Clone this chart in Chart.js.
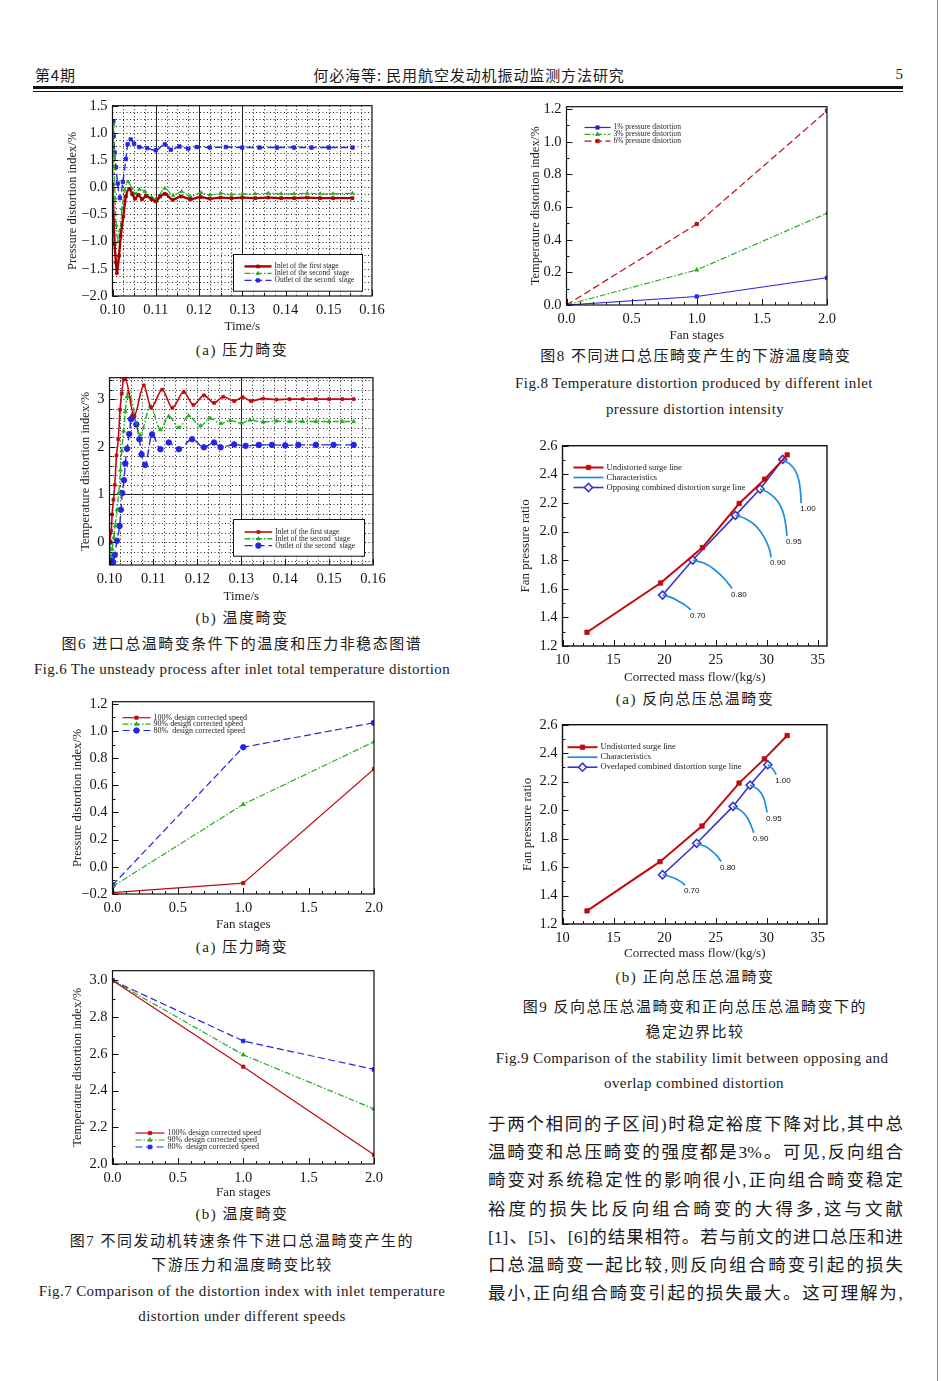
<!DOCTYPE html>
<html>
<head>
<meta charset="utf-8">
<script src="https://cdn.jsdelivr.net/npm/chart.js@4.4.1/dist/chart.umd.min.js"></script>
<style>
  body { margin: 0; background: #fff; }
  #page { position: relative; width: 941px; height: 1381px; overflow: hidden; background: #fff; }
  .t { position: absolute; white-space: nowrap; color: #1a1a1a; }
  .para { position: absolute; left: 488px; width: 415px; text-align: justify; text-align-last: justify; white-space: nowrap;
          font: 17.5px "Liberation Serif", "Noto Sans CJK SC", serif; line-height: 20px; color: #1a1a1a; }
  canvas { position: absolute; }
</style>
</head>
<body>
<div id="page"></div>
<script>
// ---------- Fig.6(a) pressure distortion vs time ----------
const t6aRed   = [0.1000, 0.1003, 0.1005, 0.1008, 0.1010, 0.1015, 0.1019, 0.1025, 0.1031, 0.1039, 0.1046, 0.1052, 0.1060, 0.1068, 0.1078, 0.1090, 0.1100, 0.1110, 0.1121, 0.1139, 0.1158, 0.1181, 0.1204, 0.1225, 0.1250, 0.1275, 0.1300, 0.1330, 0.1360, 0.1390, 0.1420, 0.1450, 0.1480, 0.1510, 0.1555];
const p6aRed   = [-0.05, -0.62, -1.05, -1.38, -1.58, -1.26, -0.90, -0.54, -0.17, -0.03, -0.13, -0.21, -0.14, -0.22, -0.16, -0.22, -0.26, -0.17, -0.12, -0.23, -0.17, -0.22, -0.18, -0.21, -0.19, -0.20, -0.19, -0.20, -0.19, -0.20, -0.20, -0.19, -0.20, -0.20, -0.20];
const t6aGreen = [0.1000, 0.1002, 0.1004, 0.1006, 0.1009, 0.1013, 0.1017, 0.1022, 0.1028, 0.1036, 0.1044, 0.1052, 0.1062, 0.1075, 0.1090, 0.1100, 0.1121, 0.1140, 0.1160, 0.1180, 0.1205, 0.1225, 0.1250, 0.1275, 0.1300, 0.1330, 0.1360, 0.1390, 0.1420, 0.1450, 0.1480, 0.1510, 0.1555];
const p6aGreen = [0.40, 1.15, 0.60, -0.20, -0.70, -1.00, -0.80, -0.40, -0.05, 0.10, -0.02, -0.12, -0.04, -0.08, -0.18, -0.22, -0.02, -0.15, -0.08, -0.17, -0.10, -0.14, -0.11, -0.13, -0.12, -0.12, -0.11, -0.12, -0.12, -0.11, -0.12, -0.12, -0.11];
const t6aBlue  = [0.1000, 0.1002, 0.1003, 0.1005, 0.1008, 0.1012, 0.1017, 0.1024, 0.1031, 0.1035, 0.1042, 0.1050, 0.1062, 0.1080, 0.1100, 0.1121, 0.1135, 0.1155, 0.1175, 0.1195, 0.1225, 0.1262, 0.1300, 0.1340, 0.1380, 0.1420, 0.1460, 0.1500, 0.1555];
const p6aBlue  = [0.05, 1.21, 0.94, 0.64, 0.37, 0.07, -0.20, 0.10, 0.52, 0.79, 0.88, 0.80, 0.74, 0.72, 0.68, 0.79, 0.69, 0.75, 0.71, 0.74, 0.73, 0.74, 0.73, 0.73, 0.73, 0.73, 0.73, 0.73, 0.73];
const timeTicks  = [0.10, 0.11, 0.12, 0.13, 0.14, 0.15, 0.16];
const timeLabels = ['0.10', '0.11', '0.12', '0.13', '0.14', '0.15', '0.16'];
const yTicks6a   = [-2, -1.5, -1, -0.5, 0, 0.5, 1, 1.5];
const yLabels6a  = ['\u22122.0', '\u22121.5', '\u22121.0', '\u22120.5', '0.0', '1.5', '1.0', '1.5'];

// ---------- Fig.6(b) temperature distortion vs time ----------
const t6bRed   = [0.1000, 0.1004, 0.1006, 0.1009, 0.1012, 0.1016, 0.1020, 0.1024, 0.1028, 0.1032, 0.1036, 0.1056, 0.1078, 0.1095, 0.1120, 0.1143, 0.1169, 0.1191, 0.1215, 0.1238, 0.1259, 0.1284, 0.1303, 0.1322, 0.1350, 0.1380, 0.1410, 0.1440, 0.1470, 0.1500, 0.1530, 0.1556];
const v6bRed   = [0.00, 0.24, 0.58, 0.89, 1.20, 1.82, 2.16, 2.78, 3.12, 3.41, 3.42, 2.65, 3.29, 2.82, 3.20, 2.82, 3.15, 2.88, 3.08, 2.92, 3.05, 2.96, 3.04, 2.96, 3.01, 2.99, 3.00, 3.00, 3.00, 3.00, 3.00, 3.00];
const t6bGreen = [0.1000, 0.1003, 0.1006, 0.1010, 0.1013, 0.1017, 0.1021, 0.1025, 0.1028, 0.1032, 0.1036, 0.1040, 0.1043, 0.1070, 0.1093, 0.1116, 0.1135, 0.1158, 0.1180, 0.1207, 0.1229, 0.1253, 0.1275, 0.1300, 0.1320, 0.1350, 0.1380, 0.1410, 0.1440, 0.1470, 0.1500, 0.1530, 0.1556];
const v6bGreen = [0.00, -0.30, -0.15, 0.10, 0.34, 0.68, 1.03, 1.51, 1.92, 2.33, 2.74, 3.05, 3.14, 2.25, 2.86, 2.36, 2.64, 2.40, 2.65, 2.44, 2.60, 2.49, 2.55, 2.50, 2.56, 2.52, 2.54, 2.53, 2.53, 2.53, 2.53, 2.53, 2.53];
const t6bBlue  = [0.1000, 0.1004, 0.1008, 0.1012, 0.1017, 0.1023, 0.1026, 0.1029, 0.1033, 0.1036, 0.1040, 0.1045, 0.1049, 0.1054, 0.1061, 0.1068, 0.1073, 0.1081, 0.1097, 0.1116, 0.1135, 0.1158, 0.1188, 0.1215, 0.1238, 0.1253, 0.1284, 0.1310, 0.1340, 0.1370, 0.1400, 0.1430, 0.1470, 0.1510, 0.1556];
const v6bBlue  = [0.00, -0.38, -0.42, -0.27, 0.03, 0.34, 0.68, 1.03, 1.30, 1.65, 1.96, 2.27, 2.58, 2.64, 2.47, 2.16, 1.84, 1.62, 2.26, 1.95, 2.09, 1.95, 2.16, 1.99, 2.09, 1.99, 2.05, 2.02, 2.04, 2.04, 2.03, 2.04, 2.04, 2.04, 2.04];
const yTicks6b  = [0, 1, 2, 3];
const yLabels6b = ['0', '1', '2', '3'];

// ---------- Fig.7 / Fig.8 vs fan stages ----------
const stages      = [0, 1, 2];
const stageTicks  = [0, 0.5, 1, 1.5, 2];
const stageLabels = ['0.0', '0.5', '1.0', '1.5', '2.0'];
const press100 = [-0.19, -0.12, 0.72];
const press90  = [-0.145, 0.46, 0.92];
const press80  = [-0.135, 0.88, 1.06];
const yTicks7a  = [-0.2, 0, 0.2, 0.4, 0.6, 0.8, 1.0, 1.2];
const yLabels7a = ['\u22120.2', '0.0', '0.2', '0.4', '0.6', '0.8', '1.0', '1.2'];
const temp100 = [3.0, 2.53, 2.05];
const temp90  = [3.0, 2.595, 2.30];
const temp80  = [3.0, 2.67, 2.515];
const yTicks7b  = [2.0, 2.2, 2.4, 2.6, 2.8, 3.0];
const yLabels7b = ['2.0', '2.2', '2.4', '2.6', '2.8', '3.0'];
const dist1 = [0, 0.052, 0.167];
const dist3 = [0, 0.215, 0.562];
const dist6 = [0, 0.496, 1.19];
const yTicks8  = [0, 0.2, 0.4, 0.6, 0.8, 1.0, 1.2];
const yLabels8 = ['0.0', '0.2', '0.4', '0.6', '0.8', '1.0', '1.2'];

// ---------- Fig.9 surge lines ----------
const flowTicks  = [10, 15, 20, 25, 30, 35];
const flowLabels = ['10', '15', '20', '25', '30', '35'];
const prTicks  = [1.2, 1.4, 1.6, 1.8, 2.0, 2.2, 2.4, 2.6];
const prLabels = ['1.2', '1.4', '1.6', '1.8', '2.0', '2.2', '2.4', '2.6'];
const speedTags = ['0.70', '0.80', '0.90', '0.95', '1.00'];
const flowUndistA = [12.4, 19.6, 23.7, 27.3, 29.8, 32.0];
const prUndistA   = [1.296, 1.640, 1.888, 2.196, 2.366, 2.536];
const flowOppose  = [19.8, 22.75, 26.93, 29.35, 31.57];
const prOppose    = [1.556, 1.801, 2.113, 2.297, 2.504];
const charFlowA = [
  [19.80, 20.62, 21.44, 22.09, 22.58],
  [22.75, 23.89, 24.87, 25.85, 26.60],
  [26.93, 27.97, 28.95, 29.77, 30.26, 30.42],
  [29.35, 30.26, 31.08, 31.57, 31.83, 31.99],
  [31.57, 32.22, 32.78, 33.14, 33.30, 33.37]
];
const charPrA = [
  [1.556, 1.540, 1.510, 1.482, 1.452],
  [1.801, 1.778, 1.735, 1.670, 1.602],
  [2.113, 2.088, 2.038, 1.957, 1.877, 1.820],
  [2.297, 2.267, 2.210, 2.141, 2.061, 1.969],
  [2.504, 2.474, 2.428, 2.359, 2.279, 2.198]
];
const flowUndistB = [12.4, 19.55, 23.66, 27.29, 29.77, 32.0];
const prUndistB   = [1.292, 1.638, 1.888, 2.190, 2.360, 2.524];
const flowOverlap = [19.8, 23.14, 26.7, 28.37, 30.1];
const prOverlap   = [1.546, 1.767, 2.026, 2.176, 2.319];
const charFlowB = [
  [19.80, 20.62, 21.27, 21.76, 21.99],
  [23.14, 24.05, 24.71, 25.20, 25.52],
  [26.70, 27.48, 28.07, 28.46, 28.73],
  [28.37, 29.12, 29.61, 29.87, 30.03],
  [30.10, 30.49, 30.75, 30.92]
];
const charPrB = [
  [1.546, 1.530, 1.511, 1.488, 1.472],
  [1.767, 1.742, 1.707, 1.673, 1.638],
  [2.026, 1.996, 1.950, 1.892, 1.841],
  [2.176, 2.146, 2.100, 2.042, 1.984],
  [2.319, 2.296, 2.272, 2.249]
];

// ---------- page texts ----------
const serif = '"Liberation Serif", "Times New Roman", serif';
const cjk = '"Liberation Serif", "Noto Sans CJK SC", sans-serif';
const hei = '"Noto Sans CJK SC", sans-serif';
const texts = [
  ['第4期', 35, 74, 15, hei, 0.8, 'l'],
  ['何必海等: 民用航空发动机振动监测方法研究', 469, 74, 15, hei, 0.9, 'c'],
  ['5', 903, 74, 15, serif, 0, 'r'],
  ['(a) 压力畸变', 242, 350, 15, cjk, 1.5, 'c'],
  ['(b) 温度畸变', 242, 618, 15, cjk, 1.5, 'c'],
  ['图6 进口总温畸变条件下的温度和压力非稳态图谱', 242, 644, 15, cjk, 1.5, 'c'],
  ['Fig.6 The unsteady process after inlet total temperature distortion', 242, 669, 15, serif, 0.35, 'c'],
  ['(a) 压力畸变', 242, 947, 15, cjk, 1.5, 'c'],
  ['(b) 温度畸变', 242, 1214, 15, cjk, 1.5, 'c'],
  ['图7 不同发动机转速条件下进口总温畸变产生的', 242, 1241, 15, cjk, 1.5, 'c'],
  ['下游压力和温度畸变比较', 242, 1265, 15, cjk, 1.5, 'c'],
  ['Fig.7 Comparison of the distortion index with inlet temperature', 242, 1291, 15, serif, 0.4, 'c'],
  ['distortion under different speeds', 242, 1316, 15, serif, 0.4, 'c'],
  ['图8 不同进口总压畸变产生的下游温度畸变', 696, 356, 15, cjk, 1.5, 'c'],
  ['Fig.8 Temperature distortion produced by different inlet', 694, 383, 15, serif, 0.4, 'c'],
  ['pressure distortion intensity', 695, 409, 15, serif, 0.4, 'c'],
  ['(a) 反向总压总温畸变', 695, 699, 15, cjk, 1.5, 'c'],
  ['(b) 正向总压总温畸变', 695, 977, 15, cjk, 1.5, 'c'],
  ['图9 反向总压总温畸变和正向总压总温畸变下的', 695, 1007, 15, cjk, 1.5, 'c'],
  ['稳定边界比较', 695, 1032, 15, cjk, 1.5, 'c'],
  ['Fig.9 Comparison of the stability limit between opposing and', 692, 1058, 15, serif, 0.4, 'c'],
  ['overlap combined distortion', 694, 1083, 15, serif, 0.4, 'c']
];
const paragraph = [
  '于两个相同的子区间)时稳定裕度下降对比,其中总',
  '温畸变和总压畸变的强度都是3%。可见,反向组合',
  '畸变对系统稳定性的影响很小,正向组合畸变稳定',
  '裕度的损失比反向组合畸变的大得多,这与文献',
  '[1]、[5]、[6]的结果相符。若与前文的进口总压和进',
  '口总温畸变一起比较,则反向组合畸变引起的损失',
  '最小,正向组合畸变引起的损失最大。这可理解为,'
];

const page = document.getElementById('page');

function addBox(css) {
  const d = document.createElement('div');
  d.style.cssText = 'position:absolute;' + css;
  page.appendChild(d);
}
addBox('left:33px;top:86px;width:870px;height:2.6px;background:#111;');
addBox('left:33px;top:91px;width:870px;height:0.9px;background:#111;');
addBox('left:937px;top:0;width:1px;height:1381px;background:#8a8a8a;');

texts.forEach(([s, x, cy, size, fam, ls, al]) => {
  const d = document.createElement('div');
  d.className = 't';
  d.textContent = s;
  d.style.font = size + 'px ' + fam;
  d.style.lineHeight = size + 'px';
  d.style.letterSpacing = ls + 'px';
  d.style.top = (cy - size / 2) + 'px';
  if (al === 'l') { d.style.left = x + 'px'; }
  else if (al === 'r') { d.style.left = (x - 400) + 'px'; d.style.width = '400px'; d.style.textAlign = 'right'; }
  else { d.style.left = (x - 400) + 'px'; d.style.width = '800px'; d.style.textAlign = 'center'; }
  page.appendChild(d);
});
paragraph.forEach((s, i) => {
  const d = document.createElement('div');
  d.className = 'para';
  d.textContent = s;
  d.style.top = (1114 + i * 28.2) + 'px';
  page.appendChild(d);
});

// ---------- helpers ----------
const range = (a, b, s) => { const out = []; for (let v = a; v <= b + s * 1e-6; v += s) out.push(+v.toFixed(6)); return out; };
const without = (arr, ex) => arr.filter(v => !ex.some(e => Math.abs(e - v) < 1e-9));
const xy = (xs, ys) => xs.map((v, i) => ({x: v, y: ys[i]}));

const framePlugin = {
  id: 'frame',
  beforeDatasetsDraw(chart, args, o) {
    const {ctx, chartArea: a} = chart, x = chart.scales.x, y = chart.scales.y;
    ctx.save();
    ctx.strokeStyle = '#222';
    ctx.lineWidth = 1;
    const vline = v => { const p = Math.round(x.getPixelForValue(v)) + 0.5; ctx.beginPath(); ctx.moveTo(p, a.top); ctx.lineTo(p, a.bottom); ctx.stroke(); };
    const hline = v => { const p = Math.round(y.getPixelForValue(v)) + 0.5; ctx.beginPath(); ctx.moveTo(a.left, p); ctx.lineTo(a.right, p); ctx.stroke(); };
    ctx.setLineDash([1, 2.5]);
    (o.dotX || []).forEach(vline);
    (o.dotY || []).forEach(hline);
    ctx.setLineDash([]);
    (o.solidX || []).forEach(vline);
    (o.solidY || []).forEach(hline);
    ctx.restore();
  },
  afterDatasetsDraw(chart, args, o) {
    const {ctx, chartArea: a} = chart, x = chart.scales.x, y = chart.scales.y;
    ctx.save();
    ctx.strokeStyle = '#111';
    ctx.lineWidth = o.lw || 1.2;
    ctx.strokeRect(a.left, a.top, a.right - a.left, a.bottom - a.top);
    ctx.lineWidth = 1;
    const tx = (v, len) => { const p = Math.round(x.getPixelForValue(v)) + 0.5; ctx.beginPath(); ctx.moveTo(p, a.bottom); ctx.lineTo(p, a.bottom - len); ctx.stroke(); };
    const ty = (v, len) => { const p = Math.round(y.getPixelForValue(v)) + 0.5; ctx.beginPath(); ctx.moveTo(a.left, p); ctx.lineTo(a.left + len, p); ctx.stroke(); };
    (o.minorX || []).forEach(v => tx(v, 3));
    (o.majorX || []).forEach(v => tx(v, 6));
    (o.minorY || []).forEach(v => ty(v, 3));
    (o.majorY || []).forEach(v => ty(v, 6));
    ctx.restore();
  }
};

const keyPlugin = {
  id: 'keys',
  afterDatasetsDraw(chart, args, o) {
    if (!o.font) return;
    const {ctx, chartArea: a} = chart;
    ctx.save();
    if (o.box) {
      const bx = Math.round(a.left + o.box[0]) + 0.5, by = Math.round(a.top + o.box[1]) + 0.5;
      ctx.fillStyle = '#fff';
      ctx.fillRect(bx, by, o.box[2], o.box[3]);
      ctx.strokeStyle = '#111';
      ctx.lineWidth = 1;
      ctx.strokeRect(bx, by, o.box[2], o.box[3]);
    }
    ctx.font = o.font;
    ctx.textBaseline = 'middle';
    let i = 0;
    chart.data.datasets.forEach(ds => {
      if (!ds.label) return;
      const yy = a.top + o.dy + i * o.rowH, x0 = a.left + o.dx;
      ctx.strokeStyle = ds.borderColor;
      ctx.lineWidth = ds.borderWidth;
      ctx.setLineDash(ds.borderDash || []);
      ctx.beginPath(); ctx.moveTo(x0, yy); ctx.lineTo(x0 + o.len, yy); ctx.stroke();
      ctx.setLineDash([]);
      if (ds.pointRadius) {
        ctx.fillStyle = ds.pointBackgroundColor;
        ctx.strokeStyle = ds.pointBorderColor;
        ctx.lineWidth = ds.pointBorderWidth;
        Chart.helpers.drawPoint(ctx, {pointStyle: ds.pointStyle, radius: ds.pointRadius, rotation: 0, borderWidth: ds.pointBorderWidth}, x0 + o.len / 2, yy);
      }
      ctx.fillStyle = '#222';
      ctx.fillText(ds.label, x0 + o.len + 3, yy);
      i++;
    });
    ctx.restore();
  }
};

const tagPlugin = {
  id: 'tags',
  afterDatasetsDraw(chart, args, o) {
    if (!o.font) return;
    const {ctx} = chart;
    ctx.save();
    ctx.font = o.font;
    ctx.fillStyle = '#111';
    ctx.textBaseline = 'top';
    chart.data.datasets.forEach((ds, i) => {
      if (!ds.tag) return;
      const pts = chart.getDatasetMeta(i).data, p = pts[pts.length - 1];
      ctx.fillText(ds.tag, p.x - 1, p.y + 2);
    });
    ctx.restore();
  }
};
Chart.register(framePlugin, keyPlugin, tagPlugin);

function axis(s, size, horiz) {
  return {
    type: 'linear', min: s.min, max: s.max,
    afterBuildTicks: sc => { sc.ticks = s.vals.map(v => ({value: v})); },
    afterFit: sc => { if (horiz) sc.height = size; else sc.width = size; },
    grid: {display: false, drawTicks: false},
    border: {display: false},
    ticks: {autoSkip: false, maxRotation: 0, padding: 5, color: '#151515',
            font: {family: serif, size: s.fs || 14.5}, callback: (v, i) => s.labels[i]},
    title: {display: true, text: s.title, color: '#222', padding: 0,
            font: {family: serif, size: s.ts || (horiz ? 13 : 12.5)}}
  };
}

function makeChart(g, datasets, sx, sy, plug) {
  const padT = 10, padR = 22;
  const cv = document.createElement('canvas');
  const w = Math.round(g.R - g.L + g.yW + padR), h = Math.round(g.B - g.T + padT + g.xH);
  cv.width = w; cv.height = h;
  cv.style.width = w + 'px'; cv.style.height = h + 'px';
  cv.style.left = (g.L - g.yW) + 'px'; cv.style.top = (g.T - padT) + 'px';
  page.appendChild(cv);
  new Chart(cv, {
    type: 'line',
    data: {datasets},
    options: {
      responsive: false, animation: false,
      layout: {padding: {top: padT, right: padR, left: 0, bottom: 0}},
      plugins: {legend: {display: false}, tooltip: {enabled: false},
                frame: plug.frame || {}, keys: plug.keys || {}, tags: plug.tags || {}},
      scales: {x: axis(sx, g.xH, true), y: axis(sy, g.yW, false)}
    }
  });
}

function line(label, xs, ys, color, st) {
  return Object.assign({
    label, data: xy(xs, ys), fill: false, borderColor: color, borderWidth: 1.2,
    pointBackgroundColor: color, pointBorderColor: color, pointBorderWidth: 0.8,
    pointRadius: 2.2, pointStyle: 'rect'
  }, st || {});
}

const RED = '#c00a10', DRED = '#a80000', GREEN = '#22ad22', BLUE = '#2424e4', CYAN = '#1b8ee2', NAVY = '#3a33cc';
const DASHDOT = [6, 2, 1.5, 2];
const smooth = {cubicInterpolationMode: 'monotone'};
const legendFont = '7.5px ' + serif;

// Fig.6(a)
makeChart({L: 112, R: 371, T: 102, B: 296, yW: 47.5, xH: 38}, [
  line('Inlet of the first stage', t6aRed, p6aRed, DRED, Object.assign({borderWidth: 2.4, pointRadius: 2}, smooth)),
  line('Inlet of the second  stage', t6aGreen, p6aGreen, GREEN, Object.assign({borderDash: DASHDOT, pointStyle: 'triangle', pointRadius: 2}, smooth)),
  line('Outlet of the second  stage', t6aBlue, p6aBlue, BLUE, Object.assign({borderWidth: 1.4, borderDash: [7, 3.5], pointRadius: 2.4}, smooth))
], {min: 0.10, max: 0.16, vals: timeTicks, labels: timeLabels, title: 'Time/s'},
   {min: -2, max: 1.5, vals: yTicks6a, labels: yLabels6a, title: 'Pressure distortion index/%'},
   {frame: {dotX: without(range(0.1025, 0.1575, 0.0025), [0.11, 0.12, 0.13]), dotY: range(-1.875, 1.375, 0.125),
            solidX: [0.11, 0.12, 0.13], majorX: timeTicks, minorX: range(0.105, 0.155, 0.01),
            majorY: yTicks6a, minorY: range(-1.75, 1.25, 0.5)},
    keys: {font: legendFont, dx: 132, dy: 160.7, rowH: 7, len: 27, box: [120.7, 148, 129, 36.7]}});

// Fig.6(b)
makeChart({L: 109, R: 372, T: 374, B: 565, yW: 31.5, xH: 39}, [
  line('Inlet of the first stage', t6bRed, v6bRed, RED, Object.assign({borderWidth: 1.6, pointRadius: 2}, smooth)),
  line('Inlet of the second  stage', t6bGreen, v6bGreen, GREEN, Object.assign({borderWidth: 1.4, borderDash: DASHDOT, pointStyle: 'triangle', pointRadius: 2.2}, smooth)),
  line('Outlet of the second  stage', t6bBlue, v6bBlue, BLUE, Object.assign({borderWidth: 1.4, borderDash: [8, 4], pointStyle: 'circle', pointRadius: 2.8}, smooth))
], {min: 0.10, max: 0.16, vals: timeTicks, labels: timeLabels, title: 'Time/s'},
   {min: -0.48, max: 3.45, vals: yTicks6b, labels: yLabels6b, title: 'Temperature distortion index/%'},
   {frame: {dotX: without(range(0.1025, 0.1575, 0.0025), [0.13]), dotY: without(range(-0.4, 3.4, 0.2), [1]),
            solidX: [0.13], solidY: [1], majorX: timeTicks, minorX: range(0.105, 0.155, 0.01),
            majorY: yTicks6b, minorY: range(-0.4, 3.4, 0.2)},
    keys: {font: legendFont, dx: 135, dy: 154.3, rowH: 6.8, len: 27.7, box: [123.3, 141, 131, 36.7]}});

// Fig.7(a)
const stageMinor = without(range(0.1, 1.9, 0.1), stageTicks);
makeChart({L: 112, R: 373, T: 698, B: 894, yW: 42.5, xH: 38}, [
  line('100% design corrected speed', stages, press100, RED, {pointRadius: 2.3}),
  line('90% design corrected speed', stages, press90, GREEN, {borderDash: DASHDOT, pointStyle: 'triangle', pointRadius: 2.4}),
  line('80%  design corrected speed', stages, press80, BLUE, {borderDash: [7, 3.5], pointStyle: 'circle', pointRadius: 2.8})
], {min: 0, max: 2, vals: stageTicks, labels: stageLabels, title: 'Fan stages'},
   {min: -0.2, max: 1.215, vals: yTicks7a, labels: yLabels7a, title: 'Pressure distortion index/%'},
   {frame: {majorX: stageTicks, minorX: stageMinor, majorY: yTicks7a, minorY: range(-0.1, 1.1, 0.2)},
    keys: {font: '8px ' + serif, dx: 10, dy: 16, rowH: 6.4, len: 28}});

// Fig.7(b)
makeChart({L: 112, R: 373, T: 967, B: 1164, yW: 42.5, xH: 36}, [
  line('100% design corrected speed', stages, temp100, RED, {pointRadius: 2.3}),
  line('90% design corrected speed', stages, temp90, GREEN, {borderDash: DASHDOT, pointStyle: 'triangle', pointRadius: 2.4}),
  line('80%  design corrected speed', stages, temp80, BLUE, {borderDash: [7, 3.5], pointRadius: 2.6})
], {min: 0, max: 2, vals: stageTicks, labels: stageLabels, title: 'Fan stages'},
   {min: 2.0, max: 3.053, vals: yTicks7b, labels: yLabels7b, title: 'Temperature distortion index/%'},
   {frame: {majorX: stageTicks, minorX: stageMinor, majorY: yTicks7b, minorY: range(2.1, 2.9, 0.2)},
    keys: {font: '8px ' + serif, dx: 23, dy: 162.3, rowH: 7, len: 29}});

// Fig.8
makeChart({L: 566, R: 826, T: 102.5, B: 304, yW: 38.5, xH: 38}, [
  line('1% pressure distortion', stages, dist1, BLUE, {pointRadius: 2.4}),
  line('3% pressure distortion', stages, dist3, GREEN, {borderDash: DASHDOT, pointStyle: 'triangle', pointRadius: 2.4}),
  line('6% pressure distortion', stages, dist6, RED, {borderDash: [7, 3.5], pointRadius: 2.4})
], {min: 0, max: 2, vals: stageTicks, labels: stageLabels, title: 'Fan stages'},
   {min: 0, max: 1.215, vals: yTicks8, labels: yLabels8, title: 'Temperature distortion index/%'},
   {frame: {majorX: stageTicks, minorX: stageMinor, majorY: yTicks8, minorY: range(0.1, 1.1, 0.2)},
    keys: {font: '7.5px ' + serif, dx: 18, dy: 20.8, rowH: 6.8, len: 26}});

// Fig.9
function surgeSets(fu, pu, fc, pc, fd, pd, name) {
  const sets = [line('Undistorted surge line', fu, pu, RED, {borderWidth: 2, pointRadius: 3.1})];
  fc.forEach((xs, k) => sets.push(line(k === 0 ? 'Characteristics' : '', xs, pc[k], CYAN,
    {borderWidth: 1.7, pointRadius: 0, tension: 0.4, tag: speedTags[k]})));
  sets.push(line(name, fd, pd, NAVY, {borderWidth: 1.6, pointStyle: 'rectRot', pointRadius: 4,
    pointBackgroundColor: '#fff', pointBorderWidth: 1.6}));
  return sets;
}
const flowMinor = without(range(11, 35, 1), flowTicks);
const prMinor = range(1.3, 2.5, 0.2);
makeChart({L: 562, R: 826, T: 441.5, B: 645, yW: 44.5, xH: 39},
  surgeSets(flowUndistA, prUndistA, charFlowA, charPrA, flowOppose, prOppose, 'Opposing combined distortion surge line'),
  {min: 10, max: 35.9, vals: flowTicks, labels: flowLabels, title: 'Corrected mass flow/(kg/s)'},
  {min: 1.2, max: 2.6, vals: prTicks, labels: prLabels, title: 'Fan pressure ratio', ts: 13},
  {frame: {lw: 1.4, majorX: flowTicks, minorX: flowMinor, majorY: prTicks, minorY: prMinor},
   keys: {font: '8.5px ' + serif, dx: 11, dy: 21.8, rowH: 10, len: 30},
   tags: {font: '8px "Liberation Sans", sans-serif'}});
makeChart({L: 562, R: 826, T: 720.5, B: 923.5, yW: 42.5, xH: 37},
  surgeSets(flowUndistB, prUndistB, charFlowB, charPrB, flowOverlap, prOverlap, 'Overlaped combined distortion surge line'),
  {min: 10, max: 35.9, vals: flowTicks, labels: flowLabels, title: 'Corrected mass flow/(kg/s)'},
  {min: 1.2, max: 2.6, vals: prTicks, labels: prLabels, title: 'Fan pressure ratio', ts: 13},
  {frame: {lw: 1.4, majorX: flowTicks, minorX: flowMinor, majorY: prTicks, minorY: prMinor},
   keys: {font: '8.5px ' + serif, dx: 5, dy: 22.5, rowH: 10, len: 30},
   tags: {font: '8px "Liberation Sans", sans-serif'}});
</script>
</body>
</html>
